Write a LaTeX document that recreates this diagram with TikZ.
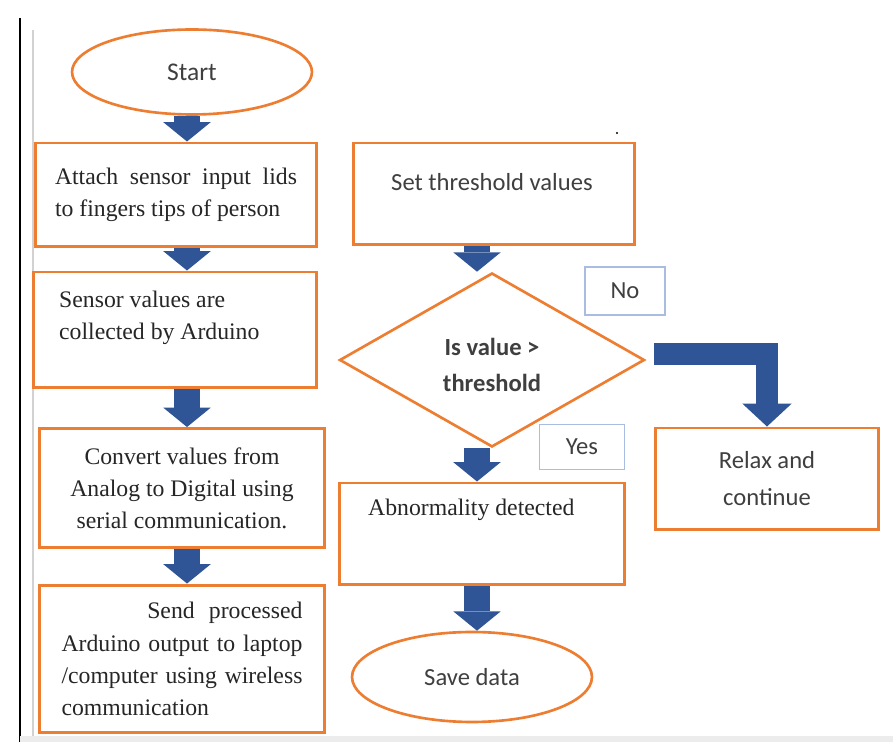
\documentclass[tikz,border=0pt]{standalone}
\usepackage{fontspec}
\setmainfont{Liberation Serif}
\newfontfamily\calibri{Carlito}
\usetikzlibrary{shapes.geometric}
\usetikzlibrary{arrows.meta}

\definecolor{boxorange}{HTML}{ED7D31}
\definecolor{arrowblue}{HTML}{2F5597}
\definecolor{tagblue}{HTML}{A9BDE0}
\definecolor{sertext}{HTML}{262626}
\definecolor{caltext}{HTML}{3F3F3F}

\tikzset{
  obox/.style={draw=boxorange, line width=1.7pt, rectangle, inner sep=0pt},
  oval/.style={draw=boxorange, line width=1.5pt, ellipse, inner sep=0pt},
  diam/.style={draw=boxorange, line width=1.5pt, diamond, inner sep=0pt},
  tag/.style={draw=tagblue, line width=0.7pt, rectangle, inner sep=0pt},
  sertxt/.style={font=\fontsize{13.5}{18.3}\selectfont, text=sertext},
  caltxt/.style={font=\calibri\fontsize{14}{21}\selectfont, text=caltext},
  downarrow/.style={draw=arrowblue, line width=14.5pt, -{Triangle[width=27pt,length=11pt,line width=0pt]}},
  bentarrow/.style={draw=arrowblue, line width=13pt, -{Triangle[width=28pt,length=13pt,line width=0pt]}}
}

\begin{document}
\begin{tikzpicture}[x=0.02cm, y=-0.02cm]
\fill[white] (0,0) rectangle (893,742);
\useasboundingbox (0,0) rectangle (893,742);
% page edges
\draw[line width=0.9pt] (20,18) -- (20,742);
\draw[line width=1pt, gray!35] (33,30) -- (33,736);
\fill[gray!15] (20,736) rectangle (893,742);
\fill[black] (617,133) circle (0.6pt);

% left column
\node[oval, caltxt, font=\calibri\fontsize{14.5}{21}\selectfont, minimum width=4.8cm, minimum height=1.7cm] (start) at (192,72) {Start};
\node[obox, sertxt, minimum width=5.64cm, minimum height=2.08cm, text width=4.84cm, align=justify] (attach) at (176,195) {Attach sensor input lids\linebreak to fingers tips of person};
\node[obox, minimum width=5.68cm, minimum height=2.32cm] (collect) at (175,330) {};
\node[sertxt, anchor=west, align=left] (collecttxt) at (53,318) {Sensor values are\\collected by Arduino};
\node[obox, sertxt, minimum width=5.7cm, minimum height=2.38cm, align=center] (convert) at (182,488) {Convert values from\\Analog to Digital using\\serial communication.};
\node[obox, sertxt, minimum width=5.7cm, minimum height=2.96cm, text width=4.82cm, align=justify] (send) at (182,659) {\hspace*{\fill}Send\hspace{0.6em}processed\linebreak Arduino output to laptop\linebreak /computer using wireless\linebreak communication};

% right column
\node[obox, minimum width=5.64cm, minimum height=2.04cm] (setthr) at (494,194) {};
\node[caltxt, anchor=west] (setthrtxt) at (385,182) {Set threshold values};
\node[diam, caltxt, font=\calibri\bfseries\fontsize{14}{20.5}\selectfont, minimum width=6.1cm, minimum height=3.48cm, align=center] (check) at (492,360) {\rule{0pt}{16pt}Is value >\\threshold};
\node[tag, caltxt, minimum width=1.6cm, minimum height=0.96cm] (nolbl) at (625,291) {No};
\node[tag, caltxt, minimum width=1.7cm, minimum height=0.9cm] (yeslbl) at (582,447) {Yes};
\node[obox, caltxt, minimum width=4.48cm, minimum height=2.04cm, align=center] (relax) at (767,479) {Relax and\\continue};
\node[obox, minimum width=5.7cm, minimum height=2.04cm] (abnorm) at (482,534) {};
\node[sertxt, anchor=west] (abnormtxt) at (362,510) {Abnormality detected};
\node[oval, caltxt, minimum width=4.8cm, minimum height=1.8cm] (save) at (472,677) {Save data};

% arrows
\coordinate (lcol) at (187,0);
\coordinate (rcol) at (477,0);
\draw[downarrow] (start.south -| lcol) -- (attach.north -| lcol);
\draw[downarrow] (attach.south -| lcol) -- (collect.north -| lcol);
\draw[downarrow] (collect.south -| lcol) -- (convert.north -| lcol);
\draw[downarrow] (convert.south -| lcol) -- (send.north -| lcol);
\draw[downarrow] (setthr.south -| rcol) -- (check.north -| rcol);
\draw[downarrow] (check.south -| rcol) -- (abnorm.north -| rcol);
\draw[downarrow] (abnorm.south -| rcol) -- (save.north -| rcol);
\draw[bentarrow] ([shift={(8,-6)}]check.east) -| (relax.north);
\end{tikzpicture}
\end{document}
